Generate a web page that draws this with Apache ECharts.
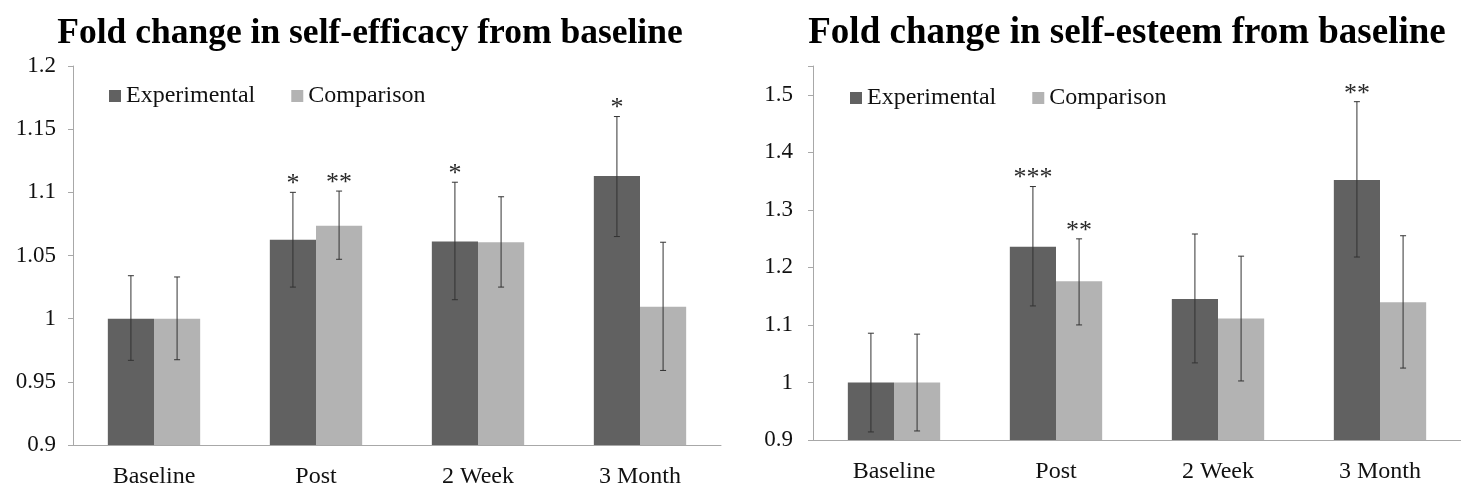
<!DOCTYPE html>
<html>
<head>
    <meta charset="utf-8">
    <script type="text/javascript" src="https://cdn.jsdelivr.net/npm/echarts@6/dist/echarts.min.js"></script>
    <title>charts</title>
    <style>body{margin:0;background:#fff;}</style>
</head>
<body>
<div id="main" style="width:1461px;height:489px;"></div>
<script type="text/javascript">

    var categories = ['Baseline', 'Post', '2 Week', '3 Month'];

    // self-efficacy
    var efficacyExp = [1.0, 1.0625, 1.061, 1.113];
    var efficacyExpLow = [0.967, 1.025, 1.015, 1.065];
    var efficacyExpHigh = [1.034, 1.1, 1.108, 1.16];
    var efficacyExpStars = ['', '*', '*', '*'];
    var efficacyComp = [1.0, 1.0735, 1.0605, 1.0095];
    var efficacyCompLow = [0.9675, 1.047, 1.025, 0.959];
    var efficacyCompHigh = [1.033, 1.101, 1.0965, 1.0605];
    var efficacyCompStars = ['', '**', '', ''];

    // self-esteem
    var esteemExp = [1.0, 1.236, 1.145, 1.352];
    var esteemExpLow = [0.914, 1.133, 1.034, 1.218];
    var esteemExpHigh = [1.0856, 1.3405, 1.258, 1.488];
    var esteemExpStars = ['', '***', '', '**'];
    var esteemComp = [1.0, 1.176, 1.111, 1.1395];
    var esteemCompLow = [0.9157, 1.1, 1.0026, 1.025];
    var esteemCompHigh = [1.084, 1.2496, 1.2195, 1.255];
    var esteemCompStars = ['', '**', '', ''];

    var font = 'Liberation Serif';
    var darkColor = '#616161';
    var lightColor = '#b3b3b3';

    function errData(low, high) {
        var out = [];
        for (var i = 0; i < low.length; i++) {
            out.push([i, low[i], high[i]]);
        }
        return out;
    }

    // error bar + significance stars, shifted onto the left/right bar of the pair
    function errorRender(side, stars) {
        return function (params, api) {
            var x = api.value(0);
            var pHi = api.coord([x, api.value(2)]);
            var pLo = api.coord([x, api.value(1)]);
            var catW = api.size([1, 0])[0];
            var cx = pHi[0] + side * catW * 0.57 / 4;
            var cap = 3;
            var style = { stroke: '#333', lineWidth: 1 };
            var children = [
                { type: 'line', shape: { x1: cx, y1: pHi[1], x2: cx, y2: pLo[1] }, style: style },
                { type: 'line', shape: { x1: cx - cap, y1: pHi[1], x2: cx + cap, y2: pHi[1] }, style: style },
                { type: 'line', shape: { x1: cx - cap, y1: pLo[1], x2: cx + cap, y2: pLo[1] }, style: style }
            ];
            var s = stars[params.dataIndex];
            if (s) {
                children.push({
                    type: 'text',
                    style: {
                        x: cx, y: pHi[1] + 5, text: s,
                        textAlign: 'center', textVerticalAlign: 'bottom',
                        fontFamily: font, fontSize: 26, fill: '#2a2a2a'
                    }
                });
            }
            return { type: 'group', children: children };
        };
    }

    function xAxisOpt(gridIndex) {
        return {
            type: 'category', gridIndex: gridIndex, data: categories,
            axisLine: { lineStyle: { color: '#a8a8a8' } },
            axisTick: { length: 7, lineStyle: { color: '#a8a8a8' } },
            axisLabel: { color: '#111', fontFamily: font, fontSize: 24, margin: 20 }
        };
    }

    function yAxisOpt(gridIndex, min, max, interval, margin, top) {
        return {
            type: 'value', gridIndex: gridIndex, min: min, max: max, interval: interval,
            splitLine: { show: false },
            axisLine: { show: true, lineStyle: { color: '#a8a8a8' } },
            axisTick: { show: true, length: 5, lineStyle: { color: '#a8a8a8' } },
            axisLabel: {
                color: '#111', fontFamily: font, fontSize: 23, margin: margin,
                formatter: function (v) { return v > top + 1e-6 ? '' : String(+v.toFixed(2)); }
            }
        };
    }

    function barSeries(name, color, data, idx) {
        return {
            name: name, type: 'bar', xAxisIndex: idx, yAxisIndex: idx,
            data: data, barGap: 0, barCategoryGap: '43%',
            itemStyle: { color: color }
        };
    }

    function errSeries(side, low, high, stars, idx) {
        return {
            type: 'custom', xAxisIndex: idx, yAxisIndex: idx, z: 5,
            renderItem: errorRender(side, stars),
            encode: { x: 0, y: [1, 2] },
            data: errData(low, high),
            silent: true
        };
    }

    var myChart = echarts.init(document.getElementById('main'));

    var option = {
        animation: false,
        backgroundColor: '#fff',
        title: [
            { text: 'Fold change in self-efficacy from baseline', left: 365, top: 11, textAlign: 'center',
              textStyle: { fontFamily: font, fontSize: 35.5, fontWeight: 'bold', color: '#000' } },
            { text: 'Fold change in self-esteem from baseline', left: 1122, top: 10, textAlign: 'center',
              textStyle: { fontFamily: font, fontSize: 37, fontWeight: 'bold', color: '#000' } }
        ],
        legend: [
            { left: 104, top: 79, icon: 'rect', itemWidth: 12, itemHeight: 12, itemGap: 36,
              data: ['Experimental', 'Comparison'],
              textStyle: { fontFamily: font, fontSize: 24, color: '#111' } },
            { left: 845, top: 81, icon: 'rect', itemWidth: 12, itemHeight: 12, itemGap: 36,
              data: ['Experimental', 'Comparison'],
              textStyle: { fontFamily: font, fontSize: 24, color: '#111' } }
        ],
        grid: [
            { left: 73, top: 66, width: 648, bottom: 42 },
            { left: 813, top: 66, width: 662, bottom: 49 }
        ],
        xAxis: [xAxisOpt(0), xAxisOpt(1)],
        yAxis: [yAxisOpt(0, 0.9, 1.2, 0.05, 17, 1.2), yAxisOpt(1, 0.9, 1.55, 0.1, 20, 1.5)],
        series: [
            barSeries('Experimental', darkColor, efficacyExp, 0),
            barSeries('Comparison', lightColor, efficacyComp, 0),
            errSeries(-1, efficacyExpLow, efficacyExpHigh, efficacyExpStars, 0),
            errSeries(1, efficacyCompLow, efficacyCompHigh, efficacyCompStars, 0),
            barSeries('Experimental', darkColor, esteemExp, 1),
            barSeries('Comparison', lightColor, esteemComp, 1),
            errSeries(-1, esteemExpLow, esteemExpHigh, esteemExpStars, 1),
            errSeries(1, esteemCompLow, esteemCompHigh, esteemCompStars, 1)
        ]
    };
    myChart.setOption(option);

</script>
</body>
</html>
